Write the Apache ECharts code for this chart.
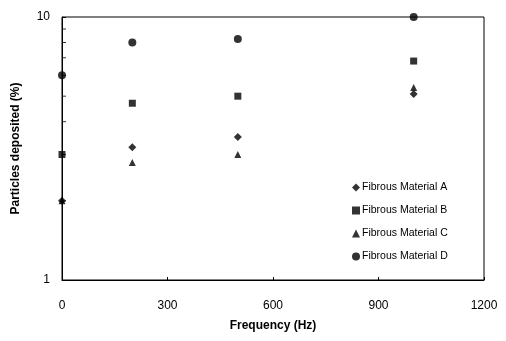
<!DOCTYPE html>
<html>
<head>
<meta charset="utf-8">
<script src="https://cdn.jsdelivr.net/npm/echarts@6/dist/echarts.min.js"></script>
<style>
  html, body { margin: 0; padding: 0; background: #fff; }
  #chart { width: 506px; height: 341px; }
</style>
</head>
<body>
<div id="chart"></div>
<script>
// frequencies (Hz) and particles deposited (%)
const frequency = [0, 200, 500, 1000];
const materialA = [2.0, 3.2, 3.5, 5.1];
const materialB = [3.0, 4.7, 5.0, 6.8];
const materialC = [2.0, 2.8, 3.0, 5.4];
const materialD = [6.0, 8.0, 8.25, 10.0];
const seriesNames = ['Fibrous Material A', 'Fibrous Material B', 'Fibrous Material C', 'Fibrous Material D'];
// minor log ticks on the y axis
const minorTicks = [2, 3, 4, 5, 6, 7, 8, 9];

const chart = echarts.init(document.getElementById('chart'));

function pairs(vals) {
  return frequency.map((f, i) => [f, vals[i]]);
}

const font = 'Liberation Sans, Arial, sans-serif';

const option = {
  backgroundColor: '#fff',
  animation: false,
  grid: {
    left: 62,
    right: 22,
    top: 17,
    bottom: 61,
    show: true,
    borderColor: '#000',
    borderWidth: 1
  },
  legend: {
    orient: 'vertical',
    left: 347,
    top: 177,
    itemGap: 12,
    itemWidth: 8,
    itemHeight: 8,
    textStyle: { fontFamily: font, fontSize: 10.5, color: '#000', padding: [0, 0, 0, -3] },
    data: seriesNames
  },
  xAxis: {
    type: 'value',
    min: 0,
    max: 1200,
    interval: 300,
    name: 'Frequency (Hz)',
    nameLocation: 'middle',
    nameGap: 40,
    nameTextStyle: { fontFamily: font, fontSize: 12, fontWeight: 'bold', color: '#000' },
    axisLine: { lineStyle: { color: '#000', width: 1 } },
    axisTick: { inside: true, length: 3, lineStyle: { color: '#000' } },
    axisLabel: { fontFamily: font, fontSize: 12, color: '#000', margin: 20, formatter: v => String(v) },
    splitLine: { show: false }
  },
  yAxis: {
    type: 'log',
    logBase: 10,
    min: 1,
    max: 10,
    name: 'Particles deposited (%)',
    nameLocation: 'middle',
    nameGap: 40,
    nameTextStyle: { fontFamily: font, fontSize: 12, fontWeight: 'bold', color: '#000' },
    axisLine: { lineStyle: { color: '#000', width: 1 } },
    axisTick: { inside: true, length: 4, lineStyle: { color: '#000' } },
    axisLabel: { fontFamily: font, fontSize: 12, color: '#000', margin: 12 },
    splitLine: { show: false }
  },
  series: [
    {
      name: 'minor', type: 'scatter', silent: true, z: 1,
      symbol: 'rect', symbolSize: [4, 1], symbolOffset: [2, 0],
      itemStyle: { color: '#000' },
      data: minorTicks.map(v => [0, v])
    },
    { name: seriesNames[0], type: 'scatter', symbol: 'diamond', symbolSize: 8, itemStyle: { color: '#000' }, data: pairs(materialA) },
    { name: seriesNames[1], type: 'scatter', symbol: 'rect', symbolSize: 7, itemStyle: { color: '#000' }, data: pairs(materialB) },
    { name: seriesNames[2], type: 'scatter', symbol: 'triangle', symbolSize: 7, itemStyle: { color: '#000' }, data: pairs(materialC) },
    { name: seriesNames[3], type: 'scatter', symbol: 'circle', symbolSize: 8, itemStyle: { color: '#000' }, data: pairs(materialD) }
  ]
};

chart.setOption(option);
</script>
</body>
</html>
